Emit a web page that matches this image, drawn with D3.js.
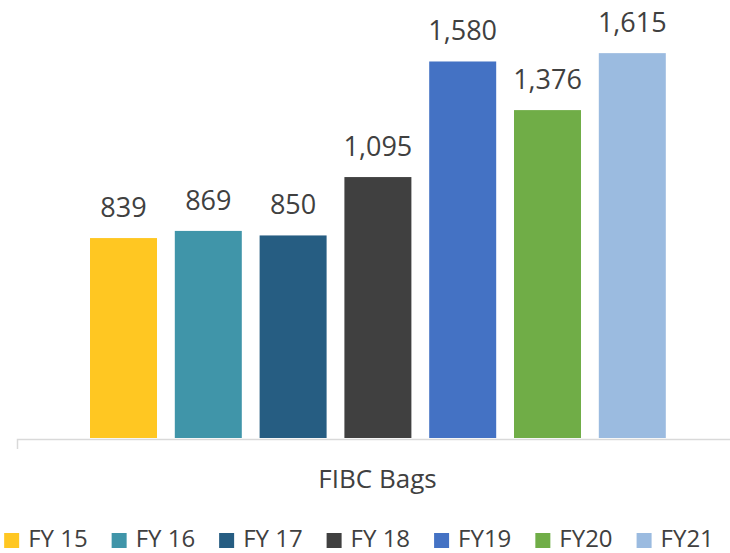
<!DOCTYPE html>
<html><head><meta charset="utf-8">
<script src="https://cdn.jsdelivr.net/npm/d3@7"></script>
<style>html,body{margin:0;padding:0;background:#fff;overflow:hidden}</style>
</head><body>
<svg id="c" width="730" height="553"></svg>
<script>
const category = "FIBC Bags";
const series = ["FY 15","FY 16","FY 17","FY 18","FY19","FY20","FY21"];
const values = [839, 869, 850, 1095, 1580, 1376, 1615];
const colors = ["#FFC722","#4095A9","#265D82","#404040","#4472C4","#70AD47","#9BBBE0"];

const svg = d3.select("#c");
const font = "'Open Sans', sans-serif";
const y = d3.scaleLinear().domain([0,1800]).range([438, 438-1800*0.2383]);
const x = d3.scaleBand().domain(series).range([81.1, 674.7]).paddingInner(0.21).paddingOuter(0.105);

svg.selectAll("rect.bar").data(series).enter().append("rect")
  .attr("x", d=>x(d)).attr("width", x.bandwidth())
  .attr("y", (d,i)=>y(values[i])).attr("height",(d,i)=>y(0)-y(values[i]))
  .attr("fill",(d,i)=>colors[i]);

svg.selectAll("text.lbl").data(series).enter().append("text")
  .attr("x", d=>x(d)+x.bandwidth()/2).attr("y",(d,i)=>y(values[i])-21)
  .attr("text-anchor","middle").attr("font-family",font).attr("font-size",27)
  .attr("fill","#404040").text((d,i)=>d3.format(",")(values[i]));

// axis
svg.append("path").attr("d","M17.5,449V439.5H730").attr("fill","none").attr("stroke","#D9D9D9").attr("stroke-width",1.5);
svg.append("text").attr("x",377.5).attr("y",488).attr("text-anchor","middle")
  .attr("font-family",font).attr("font-size",26).attr("fill","#404040").text(category);

// legend
const lg = svg.append("g");
let cx = 0;
series.forEach((s,i)=>{
  const g = lg.append("g").attr("transform",`translate(${cx},0)`);
  g.append("rect").attr("x",0).attr("y",533).attr("width",15).attr("height",15).attr("fill",colors[i]);
  const t = g.append("text").attr("x",24).attr("y",547).attr("font-family",font).attr("font-size",24).attr("fill","#404040").text(s);
  cx += 24 + t.node().getComputedTextLength() + 24;
});
const total = cx - 24;
lg.attr("transform",`translate(${359 - total/2},0)`);
</script>
</body></html>
